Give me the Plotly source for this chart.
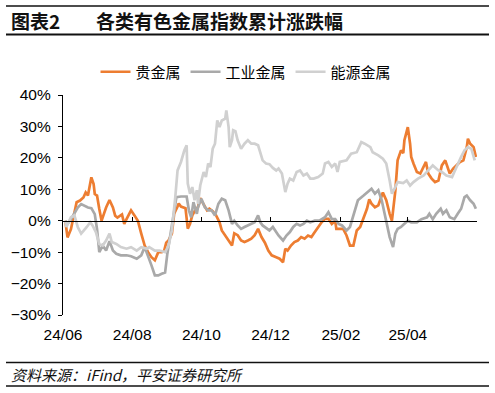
import plotly.graph_objects as go

# ---------------- data ----------------
series_names = ["贵金属", "工业金属", "能源金属"]

precious_dates = [
    "2024-06-03", "2024-06-05", "2024-06-08", "2024-06-11", "2024-06-13", "2024-06-16", "2024-06-19",
    "2024-06-21", "2024-06-23", "2024-06-26", "2024-06-28", "2024-06-29", "2024-07-01", "2024-07-03",
    "2024-07-05", "2024-07-07", "2024-07-09", "2024-07-12", "2024-07-15", "2024-07-17", "2024-07-19",
    "2024-07-23", "2024-07-25", "2024-07-27", "2024-07-29", "2024-07-31", "2024-08-03", "2024-08-06",
    "2024-08-09", "2024-08-12", "2024-08-15", "2024-08-18", "2024-08-21", "2024-08-24", "2024-08-27",
    "2024-08-29", "2024-08-31", "2024-09-02", "2024-09-05", "2024-09-07", "2024-09-10", "2024-09-11",
    "2024-09-13", "2024-09-17", "2024-09-19", "2024-09-21", "2024-09-23", "2024-09-25", "2024-09-28",
    "2024-09-30", "2024-10-03", "2024-10-06", "2024-10-08", "2024-10-11", "2024-10-14", "2024-10-17",
    "2024-10-19", "2024-10-22", "2024-10-24", "2024-10-28", "2024-10-30", "2024-11-02", "2024-11-05",
    "2024-11-08", "2024-11-11", "2024-11-14", "2024-11-17", "2024-11-20", "2024-11-23", "2024-11-26",
    "2024-11-29", "2024-12-02", "2024-12-06", "2024-12-09", "2024-12-12", "2024-12-14", "2024-12-16",
    "2024-12-19", "2024-12-22", "2024-12-25", "2024-12-28", "2024-12-31", "2025-01-03", "2025-01-06",
    "2025-01-09", "2025-01-12", "2025-01-15", "2025-01-18", "2025-01-21", "2025-01-24", "2025-01-27",
    "2025-01-28", "2025-01-31", "2025-02-03", "2025-02-06", "2025-02-09", "2025-02-12", "2025-02-15",
    "2025-02-18", "2025-02-21", "2025-02-24", "2025-02-26", "2025-02-28", "2025-03-03", "2025-03-06",
    "2025-03-10", "2025-03-13", "2025-03-16", "2025-03-18", "2025-03-21", "2025-03-23", "2025-03-26",
    "2025-03-28", "2025-03-29", "2025-04-01", "2025-04-03", "2025-04-04", "2025-04-06", "2025-04-09",
    "2025-04-12", "2025-04-15", "2025-04-17", "2025-04-19", "2025-04-22", "2025-04-25", "2025-04-28",
    "2025-05-01", "2025-05-04", "2025-05-06", "2025-05-08", "2025-05-11", "2025-05-14", "2025-05-17",
    "2025-05-20", "2025-05-23", "2025-05-24", "2025-05-26", "2025-05-29", "2025-05-31",
]
precious_values = [
    0.0, -5.3, -2.7, 2.1, 5.9, 6.4, 7.4,
    9.0, 8.0, 13.8, 11.7, 8.5, 8.0, 3.7,
    0.0, 2.1, 4.2, 6.6, 4.2, 1.6, 1.0,
    2.0, -1.0, 0.5, 2.1, 3.3, 1.7, 0.0,
    -4.1, -7.9, -10.0, -11.6, -12.6, -10.0, -10.0,
    -9.8, -7.0, -6.3, -4.1, 2.2, 4.5, 5.5,
    4.5, 4.0, -2.5, -1.0, 1.7, 3.0, 4.3,
    7.2, 5.2, 3.3, 3.8, 3.0, 1.7, -0.5,
    -3.1, -4.7, -6.0, -7.9, -4.0, -4.6, -6.3,
    -6.8, -6.3, -5.7, -4.6, -2.6, -5.2, -7.0,
    -9.5, -11.0, -11.6, -12.1, -13.2, -8.9, -9.5,
    -7.9, -6.8, -6.3, -5.2, -5.7, -4.7, -5.2,
    -3.6, -2.0, -0.5, 0.6, 0.6, -1.0, 0.0,
    -2.6, -2.5, -2.6, -4.7, -7.9, -7.9, -3.1,
    -2.0, 1.1, 3.8, 6.8, 5.4, 4.3, 4.9,
    9.0, 6.5, 2.2, 0.0, 9.5, 19.2, 22.4,
    21.5, 25.6, 29.8, 24.5, 20.3, 18.2, 15.5,
    15.0, 17.1, 18.7, 15.0, 13.4, 12.3, 12.8,
    17.6, 19.2, 17.1, 15.0, 16.6, 17.6, 18.7,
    19.2, 23.4, 26.1, 24.5, 23.4, 20.3,
]

industrial_dates = [
    "2024-06-03", "2024-06-05", "2024-06-08", "2024-06-10", "2024-06-12", "2024-06-14", "2024-06-17",
    "2024-06-20", "2024-06-23", "2024-06-26", "2024-06-29", "2024-07-01", "2024-07-03", "2024-07-06",
    "2024-07-09", "2024-07-12", "2024-07-15", "2024-07-18", "2024-07-22", "2024-07-27", "2024-07-31",
    "2024-08-05", "2024-08-09", "2024-08-12", "2024-08-15", "2024-08-18", "2024-08-21", "2024-08-24",
    "2024-08-27", "2024-08-30", "2024-09-01", "2024-09-03", "2024-09-06", "2024-09-09", "2024-09-13",
    "2024-09-18", "2024-09-20", "2024-09-22", "2024-09-24", "2024-09-27", "2024-09-28", "2024-10-01",
    "2024-10-04", "2024-10-07", "2024-10-10", "2024-10-13", "2024-10-16", "2024-10-19", "2024-10-22",
    "2024-10-25", "2024-10-28", "2024-10-30", "2024-11-02", "2024-11-05", "2024-11-08", "2024-11-11",
    "2024-11-14", "2024-11-17", "2024-11-20", "2024-11-22", "2024-11-24", "2024-11-27", "2024-11-30",
    "2024-12-03", "2024-12-08", "2024-12-12", "2024-12-15", "2024-12-18", "2024-12-21", "2024-12-24",
    "2024-12-27", "2024-12-30", "2025-01-02", "2025-01-05", "2025-01-09", "2025-01-13", "2025-01-18",
    "2025-01-21", "2025-01-24", "2025-01-27", "2025-01-30", "2025-02-02", "2025-02-06", "2025-02-09",
    "2025-02-13", "2025-02-16", "2025-02-21", "2025-02-25", "2025-02-28", "2025-03-03", "2025-03-06",
    "2025-03-09", "2025-03-13", "2025-03-16", "2025-03-19", "2025-03-21", "2025-03-23", "2025-03-26",
    "2025-03-29", "2025-04-01", "2025-04-04", "2025-04-09", "2025-04-13", "2025-04-18", "2025-04-20",
    "2025-04-23", "2025-04-26", "2025-04-30", "2025-05-02", "2025-05-05", "2025-05-08", "2025-05-12",
    "2025-05-15", "2025-05-18", "2025-05-21", "2025-05-23", "2025-05-26", "2025-05-29", "2025-05-31",
]
industrial_values = [
    0.0, -1.0, 0.5, 1.6, 3.0, 4.2, 5.3,
    4.8, 4.2, 4.0, 2.1, -2.7, -10.0, -7.9,
    -9.5, -6.5, -9.5, -10.5, -11.0, -11.0, -11.3,
    -12.1, -11.0, -8.4, -11.0, -14.2, -17.4, -17.4,
    -16.9, -16.5, -10.5, -6.0, 1.1, 7.5, 7.7,
    7.7, 3.3, 1.1, 5.9, 2.2, 4.3, 7.0,
    4.3, 3.3, 3.3, 1.7, 5.4, 7.0, 6.5,
    3.3, -1.0, 0.0, -1.5, -2.6, -2.0, -1.5,
    -1.0, -0.5, 1.7, -0.5, -1.5, -2.3, -3.1,
    -2.0, -4.7, -6.3, -4.7, -3.6, -2.0, -1.0,
    -1.5, -1.0, 0.0, -0.5, 0.0, 0.0, 1.1,
    2.7, 0.5, 0.5, -1.0, -1.5, -3.1, -2.0,
    3.3, 6.5, 8.0, 9.1, 10.2, 8.6, 9.7,
    6.5, 0.0, -5.2, -8.4, -4.1, -2.6, -2.0,
    -1.0, 0.0, -0.5, -0.5, 0.5, 1.1, 2.2,
    0.5, 2.2, 3.8, 2.2, 3.3, 1.1, 0.5,
    2.2, 3.8, 7.5, 8.0, 6.5, 5.4, 3.8,
]

energy_dates = [
    "2024-06-03", "2024-06-04", "2024-06-08", "2024-06-11", "2024-06-14", "2024-06-17", "2024-06-22",
    "2024-06-25", "2024-06-27", "2024-06-30", "2024-07-03", "2024-07-06", "2024-07-09", "2024-07-12",
    "2024-07-14", "2024-07-18", "2024-07-22", "2024-07-27", "2024-07-31", "2024-08-05", "2024-08-09",
    "2024-08-14", "2024-08-16", "2024-08-21", "2024-08-25", "2024-08-30", "2024-09-02", "2024-09-05",
    "2024-09-08", "2024-09-10", "2024-09-13", "2024-09-16", "2024-09-18", "2024-09-19", "2024-09-21",
    "2024-09-23", "2024-09-25", "2024-09-27", "2024-09-28", "2024-09-30", "2024-10-03", "2024-10-05",
    "2024-10-07", "2024-10-09", "2024-10-11", "2024-10-13", "2024-10-15", "2024-10-17", "2024-10-19",
    "2024-10-22", "2024-10-23", "2024-10-25", "2024-10-26", "2024-10-28", "2024-10-29", "2024-10-31",
    "2024-11-02", "2024-11-05", "2024-11-08", "2024-11-11", "2024-11-14", "2024-11-17", "2024-11-20",
    "2024-11-22", "2024-11-24", "2024-11-27", "2024-11-30", "2024-12-03", "2024-12-06", "2024-12-08",
    "2024-12-11", "2024-12-14", "2024-12-16", "2024-12-18", "2024-12-21", "2024-12-24", "2024-12-27",
    "2024-12-30", "2025-01-02", "2025-01-05", "2025-01-08", "2025-01-12", "2025-01-16", "2025-01-18",
    "2025-01-21", "2025-01-24", "2025-01-27", "2025-01-29", "2025-01-31", "2025-02-06", "2025-02-10",
    "2025-02-15", "2025-02-19", "2025-02-22", "2025-02-27", "2025-03-01", "2025-03-06", "2025-03-10",
    "2025-03-13", "2025-03-16", "2025-03-18", "2025-03-21", "2025-03-23", "2025-03-28", "2025-03-31",
    "2025-04-03", "2025-04-06", "2025-04-10", "2025-04-15", "2025-04-19", "2025-04-23", "2025-04-28",
    "2025-05-01", "2025-05-05", "2025-05-10", "2025-05-12", "2025-05-15", "2025-05-18", "2025-05-21",
    "2025-05-24", "2025-05-27", "2025-05-30",
]
energy_values = [
    0.0, -2.0, 1.1, 1.7, -2.0, -4.1, -2.0,
    -0.5, -1.5, -3.6, -7.4, -7.9, -6.3, -4.1,
    -6.8, -7.4, -8.4, -8.9, -8.4, -9.5, -8.4,
    -8.9, -8.4, -9.5, -9.5, -10.0, -8.0, -3.1,
    7.5, 16.0, 18.7, 22.4, 24.0, 11.8, 8.6,
    10.7, 6.5, 9.7, 5.4, 11.2, 15.5, 13.9,
    18.2, 17.1, 22.9, 24.5, 31.9, 29.8, 31.9,
    32.5, 35.1, 29.8, 23.4, 25.6, 28.8, 28.5,
    25.6, 22.9, 24.5, 25.6, 24.5, 24.5, 24.0,
    21.8, 19.2, 18.2, 18.0, 16.8, 16.0, 16.6,
    15.0, 9.1, 11.8, 13.4, 12.8, 15.5, 16.0,
    14.4, 15.0, 13.4, 13.4, 13.9, 15.0, 18.2,
    18.7, 17.1, 18.2, 15.5, 18.7, 19.2, 21.3,
    21.8, 25.0, 24.5, 23.4, 21.8, 20.8, 19.7,
    18.2, 12.8, 8.6, 10.7, 12.3, 12.0, 12.8,
    11.2, 12.3, 13.4, 14.4, 16.0, 17.6, 16.0,
    15.5, 14.4, 13.9, 15.5, 18.2, 20.3, 22.4,
    23.4, 22.9, 19.2,
]

tick_dates = ["2024-06-01", "2024-08-01", "2024-10-01", "2024-12-01", "2025-02-01", "2025-04-01"]
tick_labels = ["24/06", "24/08", "24/10", "24/12", "25/02", "25/04"]
tick_marks = tick_dates + ["2025-06-01"]
x_range = ["2024-06-01", "2025-06-01"]
y_min, y_max, y_step = -30, 40, 10

colors = ["#ED7D31", "#A9A9A9", "#D0D0D0"]

# ---------------- layout helpers (pixel -> paper) ----------------
W, H = 495, 393
PL, PR, PT, PB = 63, 477, 95, 315


def fx(px):
    return (px - PL) / (PR - PL)


def fy(py):
    return (PB - py) / (PB - PT)


FONT = "Liberation Sans, Arial, Noto Sans CJK SC, sans-serif"
CJK = "Noto Sans CJK SC, Liberation Sans, sans-serif"

fig = go.Figure()
for name, xs, ys, c in zip(series_names,
                           [precious_dates, industrial_dates, energy_dates],
                           [precious_values, industrial_values, energy_values],
                           colors):
    fig.add_trace(go.Scatter(x=xs, y=ys, mode="lines", name=name,
                             line=dict(color=c, width=2.7)))

# helper trace to carry the zero-line axis
fig.add_trace(go.Scatter(x=x_range, y=[None, None], xaxis="x2", showlegend=False,
                         hoverinfo="skip", mode="lines"))

fig.update_layout(
    width=W, height=H,
    margin=dict(l=PL, r=W - PR, t=PT, b=H - PB, autoexpand=False),
    paper_bgcolor="white", plot_bgcolor="white",
    font=dict(family=FONT, size=15, color="#000"),
    showlegend=True,
    legend=dict(orientation="h", xref="container", yref="container",
                x=0.497, xanchor="center", y=1 - 72 / H, yanchor="middle",
                font=dict(family=CJK, size=15, color="#000"),
                itemwidth=30, bgcolor="rgba(0,0,0,0)"),
    xaxis=dict(type="date", range=x_range, tickvals=tick_dates, ticktext=tick_labels,
               showline=False, showgrid=False, zeroline=False, ticks="", automargin=False,
               tickfont=dict(size=15.5), ticklabelstandoff=8),
    xaxis2=dict(type="date", range=x_range, overlaying="x", anchor="free",
                position=(0 - y_min) / (y_max - y_min), side="bottom", automargin=False,
                tickvals=tick_marks, showticklabels=False, showgrid=False,
                zeroline=False, showline=True, linecolor="#000", linewidth=1.3,
                ticks="inside", ticklen=4, tickcolor="#000", tickwidth=1.3),
    yaxis=dict(range=[y_min, y_max], dtick=y_step, tick0=0, ticksuffix="%", automargin=False,
               showline=True, linecolor="#000", linewidth=1.3, ticks="outside",
               ticklen=4, tickcolor="#000", tickwidth=1.3, showgrid=False,
               zeroline=False, tickfont=dict(size=15.5), ticklabelstandoff=4),
)

# title
fig.add_annotation(text="<b>图表2</b>", xref="paper", yref="paper", x=fx(9), y=fy(21),
                   xanchor="left", yanchor="middle", showarrow=False,
                   font=dict(family=CJK, size=19, color="#111"))
fig.add_annotation(text="<b>各类有色金属指数累计涨跌幅</b>", xref="paper", yref="paper",
                   x=fx(94), y=fy(21), xanchor="left", yanchor="middle", showarrow=False,
                   font=dict(family=CJK, size=19, color="#111"))
# source
fig.add_annotation(text="<i>资料来源：iFind，平安证券研究所</i>", xref="paper", yref="paper",
                   x=fx(9), y=fy(374), xanchor="left", yanchor="middle", showarrow=False,
                   font=dict(family=CJK, size=15, color="#111"))

# horizontal rules
for py, w in [(6, 1.3), (34.5, 2), (362.5, 1.3), (386, 1.7)]:
    fig.add_shape(type="line", xref="paper", yref="paper", x0=fx(6), x1=fx(489),
                  y0=fy(py), y1=fy(py), line=dict(color="#111", width=w))

fig.write_html("out.html", config={"displayModeBar": False},
               post_script="document.body.style.margin='0';document.body.style.overflow='hidden';")
